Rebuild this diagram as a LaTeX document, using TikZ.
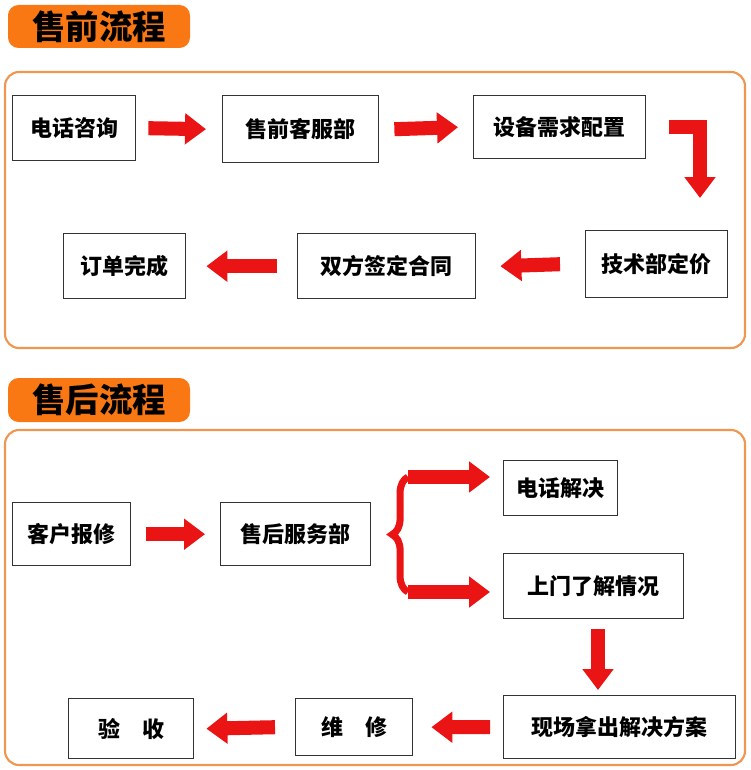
\documentclass[tikz,border=0pt]{standalone}
\usepackage{fontspec}
\setmainfont{Noto Sans CJK SC}
\usetikzlibrary{arrows.meta,decorations.pathreplacing}
\definecolor{tabor}{RGB}{250,120,20}
\definecolor{panelor}{RGB}{240,150,80}
\definecolor{arrred}{RGB}{235,20,20}

\begin{document}
\begin{tikzpicture}[x=0.02cm,y=-0.02cm]
    \tikzstyle{stepbox}=[draw=black!80,thick,font=\fontsize{12.5}{14}\selectfont\bfseries,inner sep=0pt,anchor=north west]
    \tikzstyle{fat}=[draw=arrred,line width=8pt,-{Triangle[length=0.42cm,width=0.6cm]}]
    \tikzstyle{panel}=[draw=panelor,line width=1.2pt,rounded corners=8pt]

    \useasboundingbox (0,0) rectangle (750,770);

    % Pre-sale
    \fill[tabor] (8,48) -- (8,14) [rounded corners=6pt] -- (8,5) -- (190,5) -- (190,48) -- cycle;
    \node[font=\fontsize{19}{22}\selectfont\bfseries] (T-1) at (99,27) {售前流程};
    \draw[panel] (5,72) rectangle (745,348);

    \node[stepbox,minimum width=2.46cm,minimum height=1.3cm] (A-1) at (12,95) {电话咨询};
    \node[stepbox,minimum width=3.12cm,minimum height=1.34cm] (A-2) at (222,95) {售前客服部};
    \node[stepbox,minimum width=3.44cm,minimum height=1.26cm] (A-3) at (473,95) {设备需求配置};
    \node[stepbox,minimum width=2.84cm,minimum height=1.34cm] (A-4) at (585,230) {技术部定价};
    \node[stepbox,minimum width=3.56cm,minimum height=1.3cm] (A-5) at (297,233) {双方签定合同};
    \node[stepbox,minimum width=2.44cm,minimum height=1.3cm] (A-6) at (63,233) {订单完成};
    \coordinate (turn) at (700,0);

    \draw[fat] ([xshift=0.24cm]A-1.east) -- ([xshift=-0.32cm]A-2.west);
    \draw[fat] ([xshift=0.3cm]A-2.east) -- ([xshift=-0.3cm]A-3.west);
    \draw[fat] ([xshift=0.46cm]A-3.east) -| ([yshift=0.64cm]A-4.north -| turn);
    \draw[fat] ([xshift=-0.5cm]A-4.west) -- ([xshift=0.48cm]A-5.east);
    \draw[fat] ([xshift=-0.4cm]A-5.west) -- ([xshift=0.4cm]A-6.east);

    % After-sale
    \fill[tabor] (8,422) -- (8,388) [rounded corners=6pt] -- (8,378) -- (190,378) -- (190,422) -- cycle;
    \node[font=\fontsize{19}{22}\selectfont\bfseries] (T-2) at (99,400) {售后流程};
    \draw[panel] (5,430) rectangle (745,765);

    \node[stepbox,minimum width=2.36cm,minimum height=1.26cm] (B-1) at (12,502) {客户报修};
    \node[stepbox,minimum width=3.0cm,minimum height=1.26cm] (B-2) at (220,502) {售后服务部};
    \node[stepbox,minimum width=2.28cm,minimum height=1.1cm] (B-3) at (503,460) {电话解决};
    \node[stepbox,minimum width=3.6cm,minimum height=1.3cm] (B-4) at (503,553) {上门了解情况};
    \node[stepbox,minimum width=4.64cm,minimum height=1.26cm] (B-5) at (503,695) {现场拿出解决方案};
    \node[stepbox,minimum width=2.34cm,minimum height=1.14cm] (B-6) at (295,698) {维\quad 修};
    \node[stepbox,minimum width=2.5cm,minimum height=1.2cm] (B-7) at (68,698) {验\quad 收};
    \coordinate (bt) at (408,477);
    \coordinate (bb) at (408,592);
    \coordinate (down) at (598,0);

    \draw[fat] ([xshift=0.3cm]B-1.east) -- ([xshift=-0.3cm]B-2.west);
    \draw[arrred,line width=4pt,decorate,decoration={brace,amplitude=9pt}] (bb) -- (bt);
    \draw[fat] (bt) -- ([xshift=-0.26cm]B-3.west |- bt);
    \draw[fat] (bb) -- ([xshift=-0.26cm]B-4.west |- bb);
    \draw[fat] ([yshift=-0.2cm]B-4.south -| down) -- ([yshift=0.1cm]B-5.north -| down);
    \draw[fat] ([xshift=-0.26cm]B-5.west) -- ([xshift=0.36cm]B-6.east);
    \draw[fat] ([xshift=-0.4cm]B-6.west) -- ([xshift=0.24cm]B-7.east);
\end{tikzpicture}
\end{document}
